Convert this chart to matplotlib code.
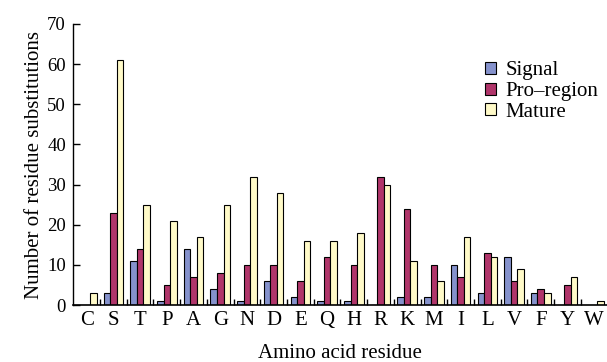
import numpy as np
import matplotlib
matplotlib.use('Agg')
import matplotlib.pyplot as plt
from matplotlib.ticker import FixedLocator

# Data
residues = ['C', 'S', 'T', 'P', 'A', 'G', 'N', 'D', 'E', 'Q',
            'H', 'R', 'K', 'M', 'I', 'L', 'V', 'F', 'Y', 'W']
signal = [0, 3, 11, 1, 14, 4, 1, 6, 2, 1, 1, 0, 2, 2, 10, 3, 12, 3, 0, 0]
pro_region = [0, 23, 14, 5, 7, 8, 10, 10, 6, 12, 10, 32, 24, 10, 7, 13, 6, 4, 5, 0]
mature = [3, 61, 25, 21, 17, 25, 32, 28, 16, 16, 18, 30, 11, 6, 17, 12, 9, 3, 7, 1]

plt.rcParams['font.family'] = 'Liberation Serif'

fig = plt.figure(figsize=(6.07, 3.62), dpi=100)
ax = fig.add_axes([0.12, 0.157, 0.88, 0.777])

x = np.arange(len(residues))
w = 0.245
ax.bar(x - w, signal, w, color='#8592CC', edgecolor='black', linewidth=0.8, label='Signal')
ax.bar(x, pro_region, w, color='#B0356A', edgecolor='black', linewidth=0.8, label='Pro\u2013region')
ax.bar(x + w, mature, w, color='#FFFAC8', edgecolor='black', linewidth=0.8, label='Mature')

ax.set_xlim(-0.52, 19.48)
ax.set_ylim(0, 70)
ax.set_yticks(range(0, 71, 10))
ax.set_xticks(x)
ax.set_xticklabels(residues, fontsize=15)
ax.xaxis.set_minor_locator(FixedLocator(x[:-1] + 0.5))
ax.tick_params(axis='x', which='major', length=0, pad=4)
ax.tick_params(axis='x', which='minor', direction='in', length=4, width=1)
ax.tick_params(axis='y', direction='in', length=5, width=1, labelsize=13.5, pad=5)

for side in ['top', 'right']:
    ax.spines[side].set_visible(False)
ax.spines['left'].set_linewidth(1)
ax.spines['bottom'].set_linewidth(1.2)

ax.set_xlabel('Amino acid residue', fontsize=15, labelpad=10)
ax.set_ylabel('Number of residue substitutions', fontsize=15, labelpad=2)

ax.legend(loc='upper left', bbox_to_anchor=(475 / 607, 1 - 51 / 362),
          bbox_transform=fig.transFigure, frameon=False, fontsize=15, borderpad=0,
          handlelength=0.5, handleheight=0.5, handletextpad=0.45, labelspacing=0.08)

fig.savefig('out.png', dpi=100)
